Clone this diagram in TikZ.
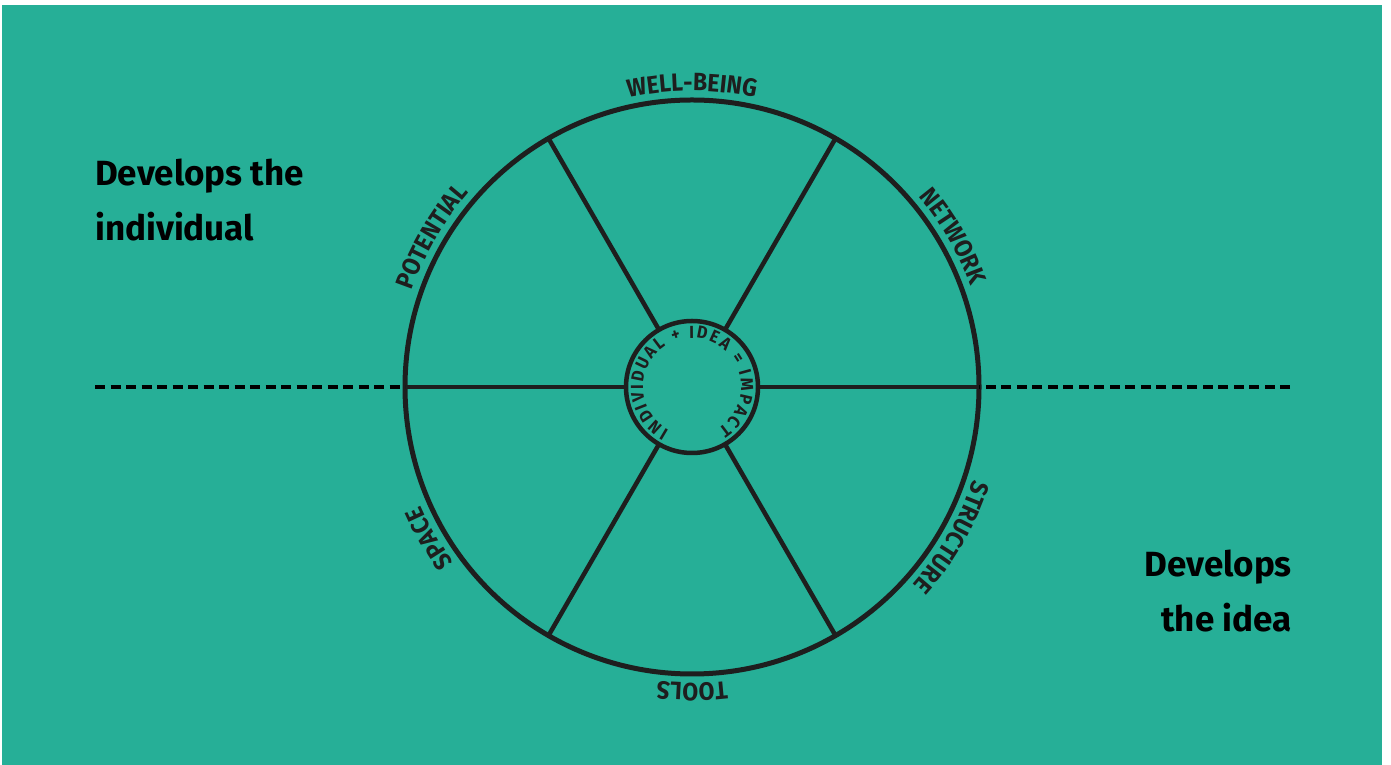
\documentclass[tikz,border=0pt]{standalone}
\usepackage{fontspec}
\setmainfont{Fira Sans}
\newfontfamily\lblfont[FakeStretch=0.92]{Fira Sans}
\usetikzlibrary{decorations.text}
\definecolor{bgteal}{RGB}{38,175,151}
\definecolor{ink}{RGB}{30,30,30}

\tikzset{
  ring/.style={circle,draw=ink,line width=5pt,inner sep=0pt,outer sep=0pt},
  spoke/.style={draw=ink,line width=4.5pt},
  split/.style={draw=black,line width=4pt,dash pattern=on 10pt off 5.5pt},
  side/.style={font=\fontsize{35}{55}\selectfont\bfseries,text=black,inner sep=0pt},
}
% label on the rim, read clockwise
\newcommand\rimlabel[2]{%
  \path[decorate,decoration={text along path,text align=center,text color=ink,
    text={|\lblfont\bfseries\fontsize{25}{25}\selectfont|#2}}]
    ([shift={(#1+40:296)}]wheel.center) arc[start angle=#1+40,end angle=#1-40,radius=296];}

\begin{document}
\begin{tikzpicture}[x=1pt,y=1pt]
  \useasboundingbox (0,0) rectangle (1391,765);
  \fill[bgteal] (2,0) rectangle (1382,760);

  \node[ring,minimum size=574pt] (wheel) at (692,378) {};
  \node[ring,line width=4.5pt,minimum size=132pt] (hub) at (692,378) {};
  \foreach \a in {0,60,...,300}
    \draw[spoke] (hub.\a) -- (wheel.\a);

  \rimlabel{90}{WELL-BEING}
  \rimlabel{30}{NETWORK}
  \rimlabel{-30}{STRUCTURE}
  \rimlabel{-90}{TOOLS}
  \rimlabel{210}{SPACE}
  \rimlabel{150}{POTENTIAL}

  \path[decorate,decoration={text along path,text align={fit to path},text color=ink,
    text={|\lblfont\bfseries\fontsize{17.5}{17.5}\selectfont|INDIVIDUAL + IDEA = IMPACT}}]
    ([shift={(242:49)}]hub.center) arc[start angle=242,end angle=-58,radius=49];

  % dashed split line
  \coordinate (dashL) at (95,378);
  \coordinate (dashR) at (1290,378);
  \draw[split] (dashL) -- (wheel.west);
  \draw[split] (dashR) -- (wheel.east);

  \node[side,anchor=base west,align=left] (indiv) at (95,524) {Develops the\\individual};
  \node[side,anchor=base east,align=right] (idea) at (1292,133) {Develops\\the idea};
\end{tikzpicture}
\end{document}
